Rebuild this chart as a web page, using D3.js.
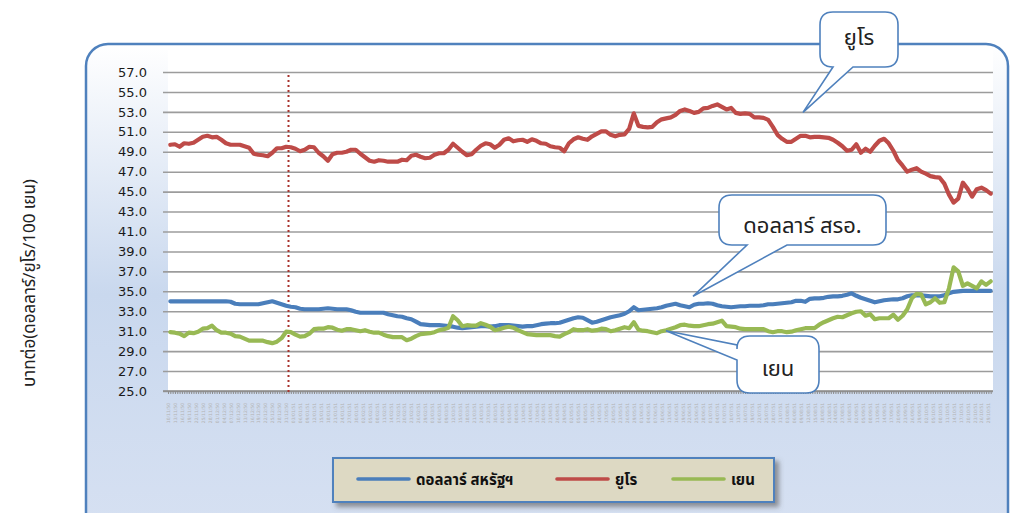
<!DOCTYPE html>
<html>
<head>
<meta charset="utf-8">
<script src="https://cdn.jsdelivr.net/npm/d3@7"></script>
<style>
  body { margin: 0; background: #fff; }
  svg text { font-family: Tahoma, "DejaVu Sans", sans-serif; }
  .thai { font-family: "Noto Sans Thai", Tahoma, Loma, Garuda, "Noto Sans", sans-serif; }
</style>
</head>
<body>
<div id="chart"></div>
<script>
// series, one value every 2 days starting 11 Nov 2007
var firstDay = new Date(2007, 10, 11);
var stepDays = 2;

var usdValues = [
  34.0, 34.0, 34.0, 34.0, 34.0, 34.0, 34.0, 34.0, 34.0, 34.0, 34.0, 34.0, 34.0, 33.95, 33.75, 33.7, 33.7, 33.7, 33.7, 33.7,
  33.8, 33.9, 34.0, 33.85, 33.7, 33.55, 33.45, 33.4, 33.25, 33.2, 33.2, 33.2, 33.2, 33.25, 33.3, 33.25, 33.2, 33.2, 33.2, 33.1,
  32.95, 32.85, 32.85, 32.85, 32.85, 32.85, 32.85, 32.7, 32.6, 32.5, 32.45, 32.3, 32.2, 31.95, 31.7, 31.65, 31.6, 31.6, 31.6, 31.55,
  31.5, 31.45, 31.35, 31.3, 31.35, 31.4, 31.45, 31.5, 31.5, 31.45, 31.5, 31.6, 31.6, 31.6, 31.55, 31.5, 31.45, 31.5, 31.5, 31.6,
  31.7, 31.75, 31.8, 31.8, 31.85, 32.0, 32.15, 32.3, 32.4, 32.35, 32.1, 31.85, 31.95, 32.1, 32.25, 32.4, 32.5, 32.6, 32.75, 33.0,
  33.4, 33.1, 33.15, 33.2, 33.25, 33.3, 33.4, 33.55, 33.65, 33.75, 33.6, 33.5, 33.4, 33.65, 33.75, 33.75, 33.8, 33.75, 33.6, 33.5,
  33.45, 33.4, 33.45, 33.5, 33.5, 33.55, 33.55, 33.55, 33.6, 33.7, 33.7, 33.75, 33.8, 33.85, 33.9, 34.05, 34.05, 33.95, 34.25, 34.3,
  34.3, 34.35, 34.45, 34.5, 34.5, 34.55, 34.65, 34.8, 34.55, 34.35, 34.2, 34.05, 33.9, 34.0, 34.1, 34.15, 34.2, 34.2, 34.3, 34.5,
  34.6, 34.6, 34.6, 34.55, 34.5, 34.5, 34.5, 34.6, 34.8, 34.95, 35.0, 35.05, 35.05, 35.05, 35.05, 35.05, 35.05, 35.05
];

var euroValues = [
  49.7, 49.75, 49.5, 49.85, 49.8, 49.9, 50.2, 50.5, 50.6, 50.45, 50.5, 50.2, 49.85, 49.7, 49.7, 49.7, 49.55, 49.4, 48.8, 48.7,
  48.65, 48.55, 48.9, 49.35, 49.35, 49.5, 49.45, 49.3, 49.05, 49.2, 49.5, 49.45, 48.9, 48.55, 48.1, 48.75, 48.9, 48.9, 49.0, 49.2,
  49.2, 48.8, 48.45, 48.1, 48.0, 48.15, 48.1, 48.0, 48.0, 48.0, 48.2, 48.15, 48.6, 48.7, 48.5, 48.35, 48.4, 48.7, 48.85, 48.85,
  49.2, 49.8, 49.4, 49.0, 48.65, 48.75, 49.2, 49.6, 49.85, 49.75, 49.4, 49.7, 50.2, 50.35, 50.05, 50.15, 50.2, 50.0, 50.25, 50.1,
  49.85, 49.8, 49.55, 49.45, 49.4, 49.05, 49.85, 50.25, 50.45, 50.3, 50.2, 50.55, 50.8, 51.05, 51.05, 50.7, 50.55, 50.7, 50.75, 51.3,
  52.85, 51.6, 51.5, 51.45, 51.5, 51.95, 52.25, 52.35, 52.45, 52.7, 53.1, 53.25, 53.1, 52.9, 53.0, 53.35, 53.4, 53.6, 53.75, 53.5,
  53.25, 53.4, 52.9, 52.8, 52.85, 52.8, 52.45, 52.45, 52.4, 52.2, 51.5, 50.7, 50.3, 50.0, 50.0, 50.3, 50.6, 50.6, 50.45, 50.5,
  50.5, 50.45, 50.4, 50.2, 49.9, 49.55, 49.1, 49.2, 49.75, 48.9, 49.3, 49.0, 49.6, 50.1, 50.3, 49.85, 49.1, 48.15, 47.6, 47.0,
  47.2, 47.35, 47.0, 46.8, 46.55, 46.45, 46.4, 45.8, 44.7, 43.9, 44.3, 45.9, 45.3, 44.5, 45.25, 45.4, 45.15, 44.8
];

var yenValues = [
  30.9, 30.85, 30.75, 30.5, 30.85, 30.8, 30.95, 31.25, 31.3, 31.55, 31.1, 30.85, 30.85, 30.75, 30.5, 30.45, 30.25, 30.05, 30.05, 30.05,
  30.05, 29.9, 29.8, 29.95, 30.3, 30.95, 30.9, 30.65, 30.45, 30.5, 30.75, 31.2, 31.25, 31.25, 31.4, 31.35, 31.15, 31.05, 31.2, 31.2,
  31.1, 31.0, 31.1, 30.95, 30.85, 30.85, 30.65, 30.5, 30.4, 30.4, 30.4, 30.1, 30.25, 30.5, 30.7, 30.75, 30.8, 30.9, 31.1, 31.2,
  31.35, 32.5, 32.1, 31.5, 31.6, 31.55, 31.55, 31.8, 31.65, 31.45, 31.1, 31.2, 31.35, 31.45, 31.35, 31.1, 30.9, 30.7, 30.65, 30.6,
  30.6, 30.6, 30.6, 30.5, 30.45, 30.7, 30.9, 31.2, 31.1, 31.1, 31.2, 31.05, 31.1, 31.25, 31.2, 31.0, 31.1, 31.25, 31.4, 31.3,
  31.9, 31.15, 31.05, 31.0, 30.9, 30.8, 31.0, 31.1, 31.25, 31.4, 31.6, 31.65, 31.55, 31.5, 31.5, 31.6, 31.7, 31.75, 31.9, 32.05,
  31.5, 31.45, 31.4, 31.25, 31.2, 31.2, 31.2, 31.2, 31.2, 31.0, 30.9, 31.0, 31.0, 30.9, 30.95, 31.1, 31.2, 31.3, 31.3, 31.3,
  31.65, 31.9, 32.1, 32.3, 32.45, 32.4, 32.6, 32.8, 32.95, 33.0, 32.55, 32.7, 32.2, 32.3, 32.3, 32.3, 32.65, 32.15, 32.55, 33.2,
  34.3, 34.75, 34.7, 33.7, 33.9, 34.3, 33.85, 33.9, 35.3, 37.4, 37.0, 35.55, 35.8, 35.55, 35.3, 36.0, 35.65, 36.0
];

var seriesNames = ["ดอลลาร์ สหรัฐฯ", "ยูโร", "เยน"];
var seriesColors = ["#4a7ebb", "#be4b48", "#98b954"];
var yTicks = [25, 27, 29, 31, 33, 35, 37, 39, 41, 43, 45, 47, 49, 51, 53, 55, 57];
var yTitle = "บาทต่อ(ดอลลาร์/ยูโร/100 เยน)";
var markerDate = new Date(2008, 0, 1);

// callout texts
var calloutTexts = ["ยูโร", "ดอลลาร์ สรอ.", "เยน"];

var svgWidth = 1010;
var svgHeight = 513;

var svg = d3.select("#chart")
  .append("svg")
  .attr("width", svgWidth)
  .attr("height", svgHeight);

var defs = svg.append("defs");
var grad = defs.append("linearGradient")
  .attr("id", "frameFill")
  .attr("x1", 0).attr("y1", 0).attr("x2", 0).attr("y2", 1);
grad.append("stop").attr("offset", "0%").attr("stop-color", "#ffffff");
grad.append("stop").attr("offset", "50%").attr("stop-color", "#c9d8ee");
grad.append("stop").attr("offset", "100%").attr("stop-color", "#d7e1f2");

var shadow = defs.append("filter").attr("id", "shadow")
  .attr("x", "-10%").attr("y", "-30%").attr("width", "130%").attr("height", "180%");
shadow.append("feDropShadow")
  .attr("dx", 4).attr("dy", 4).attr("stdDeviation", 2.5)
  .attr("flood-color", "#555").attr("flood-opacity", 0.6);

// outer frame
svg.append("rect")
  .attr("x", 86).attr("y", 44)
  .attr("width", 922).attr("height", 500)
  .attr("rx", 22)
  .attr("fill", "url(#frameFill)")
  .attr("stroke", "#4f81bd")
  .attr("stroke-width", 2.5);

var dates = usdValues.map((d, i) => d3.timeDay.offset(firstDay, i * stepDays));
var lastDay = dates[dates.length - 1];

var x = d3.scaleTime()
  .domain([d3.timeDay.offset(firstDay, -1), d3.timeDay.offset(lastDay, 1)])
  .range([168, 993]);

var y = d3.scaleLinear()
  .domain([25, 57])
  .range([391, 72]);

// plot area
svg.append("rect")
  .attr("x", 168).attr("y", 50)
  .attr("width", 825).attr("height", 341)
  .attr("fill", "#fff");

// gridlines + y labels
var yAxis = svg.append("g")
  .attr("transform", "translate(168,0)")
  .call(d3.axisLeft(y).tickValues(yTicks).tickFormat(d3.format(".1f"))
    .tickSize(-825).tickPadding(20));
yAxis.select(".domain").remove();
yAxis.selectAll(".tick line")
  .attr("x1", -5)
  .attr("stroke", "#9c9c9c")
  .attr("stroke-width", 1.6);
yAxis.selectAll(".tick text")
  .attr("x", -21)
  .attr("font-size", "13px")
  .attr("fill", "#1a1a1a");

// x axis with daily ticks
var dayTicks = d3.timeDay.range(x.domain()[0], x.domain()[1]);
var labelFmt = d3.timeFormat("%d/%m/");
var xAxis = svg.append("g")
  .attr("transform", "translate(0,391)")
  .call(d3.axisBottom(x).tickValues(dayTicks).tickSize(3).tickSizeOuter(0)
    .tickFormat((d, i) => i % 3 ? "" : labelFmt(d) + String((d.getFullYear() + 543) % 100)));
xAxis.select(".domain")
  .attr("stroke", "#8c8c8c")
  .attr("stroke-width", 1.6)
  .attr("d", "M163,0H993");
xAxis.selectAll(".tick line").attr("stroke", "#8c8c8c");
xAxis.selectAll(".tick text")
  .attr("font-size", "4.5px")
  .attr("fill", "#b2b2b2")
  .attr("text-anchor", "end")
  .attr("transform", "rotate(-90)")
  .attr("x", -12)
  .attr("y", 0)
  .attr("dy", "0.35em");

// red marker line
svg.append("line")
  .attr("x1", x(markerDate)).attr("x2", x(markerDate))
  .attr("y1", 75).attr("y2", 392)
  .attr("stroke", "#a8322d")
  .attr("stroke-width", 2)
  .attr("stroke-dasharray", "2,3");

// lines
var line = d3.line()
  .x((d, i) => x(dates[i]))
  .y(d => y(d));

[usdValues, euroValues, yenValues].forEach(function(vals, k) {
  svg.append("path")
    .datum(vals)
    .attr("d", line)
    .attr("fill", "none")
    .attr("stroke", seriesColors[k])
    .attr("stroke-width", 4.2)
    .attr("stroke-linejoin", "round")
    .attr("stroke-linecap", "round");
});

// y title
svg.append("text")
  .attr("class", "thai")
  .attr("transform", "translate(35,283) rotate(-90)")
  .attr("text-anchor", "middle")
  .attr("font-size", "17px")
  .attr("fill", "#222")
  .text(yTitle);

// callout bubbles
function bubble(x0, y0, x1, y1, r, side, t1, t2, ax, ay) {
  var p = d3.path();
  p.moveTo(x0 + r, y0);
  p.lineTo(x1 - r, y0);
  p.quadraticCurveTo(x1, y0, x1, y0 + r);
  p.lineTo(x1, y1 - r);
  p.quadraticCurveTo(x1, y1, x1 - r, y1);
  if (side === "bottom") {
    p.lineTo(t2, y1);
    p.lineTo(ax, ay);
    p.lineTo(t1, y1);
  }
  p.lineTo(x0 + r, y1);
  p.quadraticCurveTo(x0, y1, x0, y1 - r);
  if (side === "left") {
    p.lineTo(x0, t2);
    p.lineTo(ax, ay);
    p.lineTo(x0, t1);
  }
  p.lineTo(x0, y0 + r);
  p.quadraticCurveTo(x0, y0, x0 + r, y0);
  p.closePath();
  return p.toString();
}

var callouts = [
  {box: [820, 12, 898, 67], side: "bottom", t: [833, 853], a: [803, y(52.95)], text: calloutTexts[0], ty: 45},
  {box: [719, 195, 886, 245], side: "bottom", t: [747, 787], a: [693, y(34.5)], text: calloutTexts[1], ty: 233},
  {box: [737, 336, 819, 393], side: "left", t: [345, 360], a: [666, y(31.05)], text: calloutTexts[2], ty: 376}
];

callouts.forEach(function(c) {
  svg.append("path")
    .attr("d", bubble(c.box[0], c.box[1], c.box[2], c.box[3], 13, c.side, c.t[0], c.t[1], c.a[0], c.a[1]))
    .attr("fill", "#fff")
    .attr("stroke", "#4f81bd")
    .attr("stroke-width", 1.6);
  svg.append("text")
    .attr("class", "thai")
    .attr("x", (c.box[0] + c.box[2]) / 2)
    .attr("y", c.ty)
    .attr("text-anchor", "middle")
    .attr("font-size", "22px")
    .attr("fill", "#222")
    .text(c.text);
});

// legend
var legend = svg.append("g");
legend.append("rect")
  .attr("x", 333).attr("y", 458)
  .attr("width", 441).attr("height", 44)
  .attr("fill", "#ddd9c3")
  .attr("stroke", "#4f81bd")
  .attr("stroke-width", 2)
  .attr("filter", "url(#shadow)");

var legendX = [358, 557, 673];
seriesNames.forEach(function(name, k) {
  legend.append("line")
    .attr("x1", legendX[k]).attr("x2", legendX[k] + 51)
    .attr("y1", 479).attr("y2", 479)
    .attr("stroke", seriesColors[k])
    .attr("stroke-width", 3.6)
    .attr("stroke-linecap", "round");
  legend.append("text")
    .attr("class", "thai")
    .attr("x", legendX[k] + 58)
    .attr("y", 485)
    .attr("font-size", "15px")
    .attr("font-weight", "bold")
    .attr("fill", "#111")
    .text(name);
});
</script>
</body>
</html>
